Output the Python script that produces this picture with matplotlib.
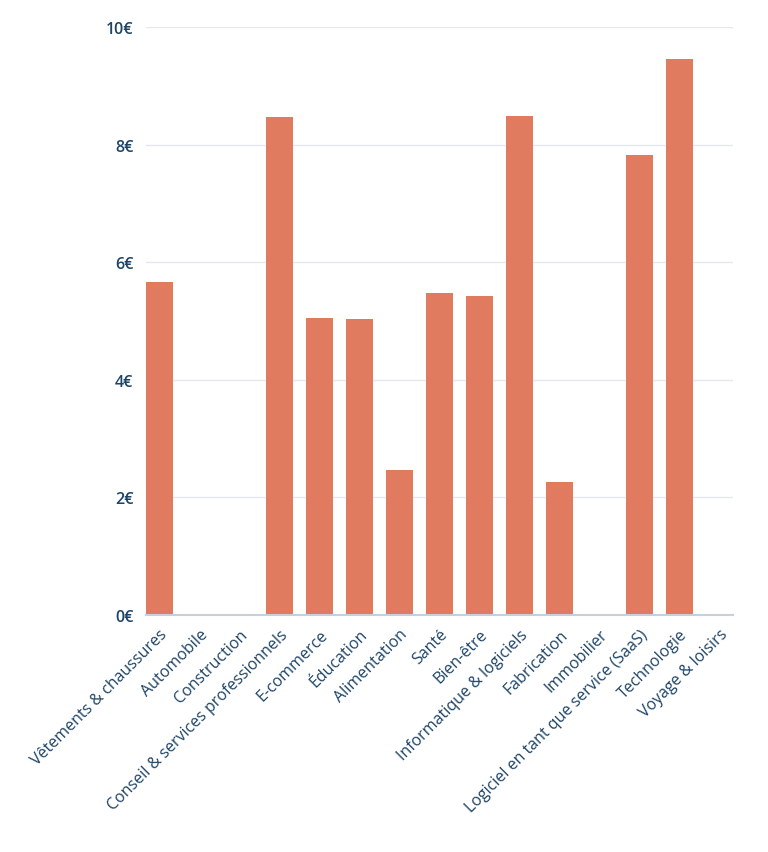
import matplotlib.pyplot as plt
from matplotlib.ticker import FuncFormatter

categories = [
    "Vêtements & chaussures", "Automobile", "Construction",
    "Conseil & services professionnels", "E-commerce", "Éducation",
    "Alimentation", "Santé", "Bien-être", "Informatique & logiciels",
    "Fabrication", "Immobilier", "Logiciel en tant que service (SaaS)",
    "Technologie", "Voyage & loisirs",
]
values = [5.67, 0, 0, 8.47, 5.05, 5.03, 2.46, 5.48, 5.43, 8.49, 2.27, 0, 7.83, 9.46, 0]
yticks = [0, 2, 4, 6, 8, 10]

text_color = "#1d4466"
bar_color = "#e07b5f"

plt.rcParams['font.family'] = ['Open Sans', 'DejaVu Sans']

fig = plt.figure(figsize=(7.68, 8.53), dpi=100)
ax = fig.add_axes([146 / 768, 1 - 616 / 853, 587 / 768, 588 / 853])

x = list(range(len(categories)))
ax.bar(x, values, width=0.675, color=bar_color, zorder=3)

ax.set_xlim(-0.3375, len(categories) - 1 + 0.3375)
ax.set_ylim(0, 10)
ax.set_yticks(yticks)
ax.yaxis.set_major_formatter(FuncFormatter(lambda v, p: f"{v:.0f}€"))
ax.grid(axis='y', color="#e3e8ee", linewidth=1, zorder=0)

ax.set_xticks(x)
ax.set_xticklabels(categories, rotation=45, ha='right', va='top',
                   rotation_mode='anchor', fontsize=11.5, color=text_color)
for lbl in ax.get_yticklabels():
    lbl.set_fontsize(11.5)
    lbl.set_color(text_color)
    lbl.set_fontweight('semibold')

ax.tick_params(axis='both', length=0)
ax.tick_params(axis='y', pad=9)
ax.tick_params(axis='x', pad=8)

for s in ['top', 'right', 'left']:
    ax.spines[s].set_visible(False)
ax.spines['bottom'].set_color("#c5d0da")
ax.spines['bottom'].set_linewidth(1.5)
ax.spines['bottom'].set_zorder(4)

fig.savefig("out.png", dpi=100)
